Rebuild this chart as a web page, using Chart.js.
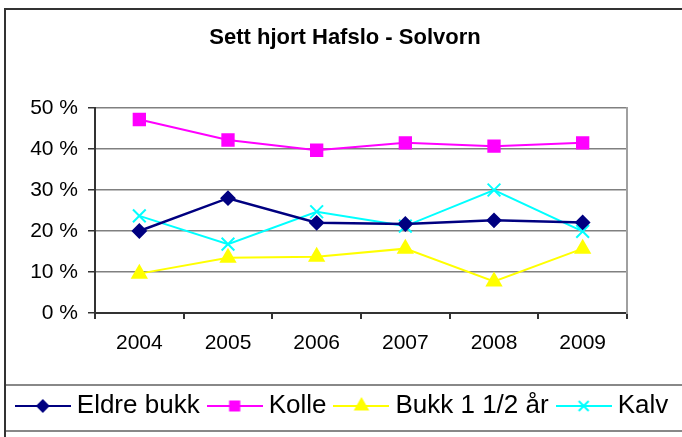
<!DOCTYPE html>
<html>
<head>
<meta charset="utf-8">
<script src="https://cdn.jsdelivr.net/npm/chart.js@4/dist/chart.umd.min.js"></script>
<style>
  body { margin: 0; background: #fff; }
  canvas { display: block; }
</style>
</head>
<body>
<canvas id="hjortChart" width="682" height="437"></canvas>
<script>
const years = ["2004", "2005", "2006", "2007", "2008", "2009"];
const eldreBukk = [20, 28, 22, 21.7, 22.6, 22.1];
const kolle = [47.2, 42.2, 39.7, 41.5, 40.7, 41.5];
const bukk15 = [9.6, 13.5, 13.7, 15.7, 7.7, 15.7];
const kalv = [23.7, 16.8, 24.7, 21.2, 30, 19.9];

const FONT = "'Liberation Sans', Arial, sans-serif";

// small line+marker pictures for the legend
function legendIcon(style, color, r) {
	const c = document.createElement("canvas");
	c.width = 56;
	c.height = 20;
	const g = c.getContext("2d");
	g.strokeStyle = color;
	g.fillStyle = color;
	g.lineWidth = 2;
	g.beginPath();
	g.moveTo(0, 10);
	g.lineTo(56, 10);
	g.stroke();
	Chart.helpers.drawPoint(g, { pointStyle: style, radius: r, rotation: 0, borderWidth: 2 }, 28, 10);
	return c;
}
const legendIcons = [
	legendIcon("rectRot", "#000080", 5.5),
	legendIcon("rect", "#FF00FF", 6.5),
	legendIcon("triangle", "#FFFF00", 7),
	legendIcon("crossRot", "#00FFFF", 7),
];

const frame = {
	id: "frame",
	beforeDraw(chart) {
		const ctx = chart.ctx;
		ctx.save();
		ctx.fillStyle = "#fff";
		ctx.fillRect(0, 0, chart.width, chart.height);
		ctx.strokeStyle = "#888";
		ctx.lineWidth = 2;
		ctx.beginPath();
		ctx.moveTo(5, 385);
		ctx.lineTo(chart.width, 385);
		ctx.moveTo(5, 431);
		ctx.lineTo(chart.width, 431);
		ctx.stroke();
		ctx.strokeStyle = "#333";
		ctx.strokeRect(5, 9, chart.width + 10, chart.height + 10);
		ctx.restore();
	},
};

function series(label, data, color, style, r, bw) {
	return {
		label: label,
		data: data,
		borderColor: color,
		backgroundColor: color,
		pointBackgroundColor: color,
		pointBorderColor: color,
		pointStyle: style,
		pointRadius: r,
		pointBorderWidth: 2,
		borderWidth: bw,
		tension: 0,
	};
}

new Chart(document.getElementById("hjortChart"), {
	type: "line",
	data: {
		labels: years,
		datasets: [
			series("Eldre bukk", eldreBukk, "#000080", "rectRot", 6.5, 2.5),
			series("Kolle", kolle, "#FF00FF", "rect", 8, 2),
			series("Bukk 1 1/2 år", bukk15, "#FFFF00", "triangle", 8, 2),
			series("Kalv", kalv, "#00FFFF", "crossRot", 9, 2),
		],
	},
	options: {
		responsive: false,
		animation: false,
		layout: { padding: { left: 4, right: -4, top: 0, bottom: 8 } },
		plugins: {
			tooltip: { enabled: false },
			title: {
				display: true,
				text: "Sett hjort Hafslo - Solvorn",
				color: "#000",
				font: { family: FONT, size: 22, weight: "bold" },
				padding: { top: 25, bottom: 56.6 },
			},
			legend: {
				position: "bottom",
				labels: {
					color: "#000",
					font: { family: FONT, size: 26 },
					usePointStyle: true,
					pointStyleWidth: 42,
					boxHeight: 20,
					padding: 14,
					generateLabels: (chart) =>
						Chart.defaults.plugins.legend.labels
							.generateLabels(chart)
							.map((l, i) => Object.assign(l, { pointStyle: legendIcons[i] })),
				},
			},
		},
		scales: {
			x: {
				offset: true,
				grid: {
					offset: true,
					drawOnChartArea: false,
					tickLength: 6,
					color: "#333",
					lineWidth: 2,
				},
				border: { color: "#333", width: 2 },
				ticks: { color: "#000", font: { family: FONT, size: 21 }, padding: 12 },
				afterFit: (s) => { s.height = 66; },
			},
			y: {
				min: 0,
				max: 50,
				grid: {
					color: "#808080",
					lineWidth: 1.5,
					tickLength: 7,
					tickColor: "#333",
				},
				border: { color: "#333", width: 2 },
				ticks: {
					stepSize: 10,
					color: "#000",
					padding: 10,
					font: { family: FONT, size: 21 },
					callback: (v) => v + " %",
				},
				afterFit: (s) => { s.width = 91; },
			},
			y2: {
				position: "right",
				min: 0,
				max: 50,
				grid: { display: false },
				ticks: { display: false },
				border: { color: "#a0a0a0", width: 2 },
				afterFit: (s) => { s.width = 59; },
			},
		},
	},
	plugins: [frame],
});
</script>
</body>
</html>
